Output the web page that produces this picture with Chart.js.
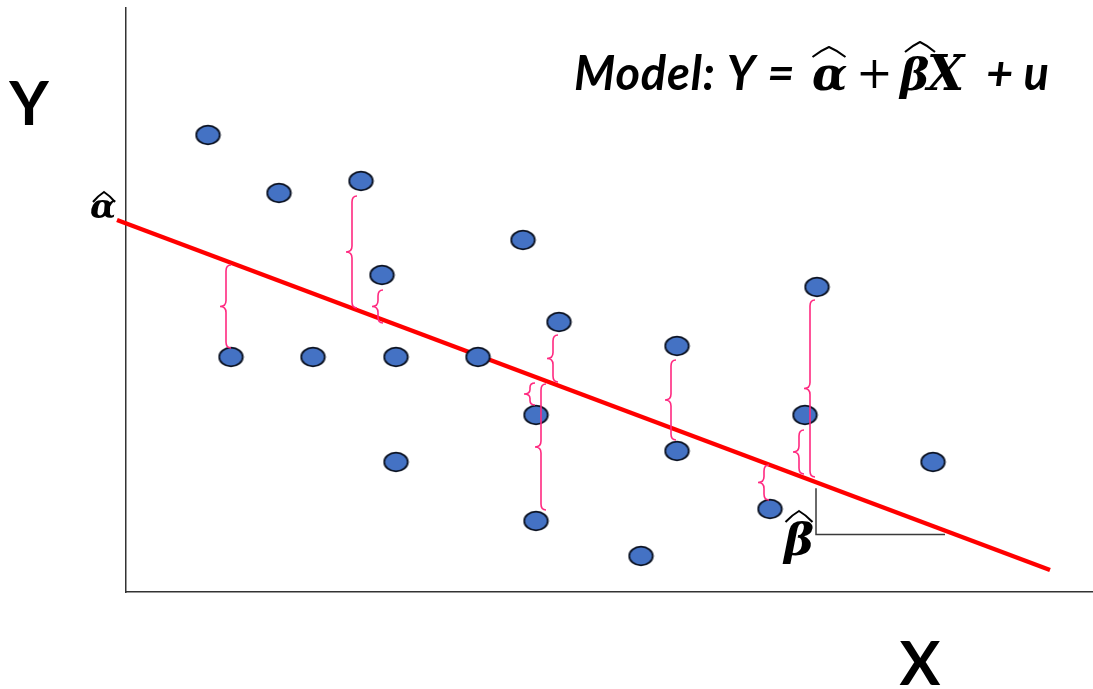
<!DOCTYPE html>
<html>
<head>
<meta charset="utf-8">
<script src="https://cdn.jsdelivr.net/npm/chart.js@4"></script>
<style>
html,body{margin:0;padding:0;background:#fff;}
#wrap{width:1093px;height:689px;}
</style>
</head>
<body>
<div id="wrap"><canvas id="c" width="1093" height="689"></canvas></div>
<script>
// Observations (X, Y) in chart units
const obsX = [8.2, 15.3, 23.5, 25.6, 39.7, 43.3, 69.1, 10.5, 18.7, 27.0, 35.2, 55.1, 41.0, 67.9, 27.0, 55.1, 80.7, 41.0, 64.4, 51.5];
const obsY = [45.7, 39.9, 41.1, 31.7, 35.2, 27.0, 30.5, 23.5, 23.5, 23.5, 23.5, 24.6, 17.7, 17.7, 13.0, 14.1, 13.0, 7.1, 8.3, 3.6];

// Fitted regression line endpoints
const lineX = [-0.9, 92.4];
const lineY = [37.2, 2.2];

// Residual braces: x position, top Y, bottom Y
const braceX   = [10.0, 22.6, 25.2, 42.7, 40.4, 41.5, 54.5, 67.3, 68.4, 63.8];
const braceTop = [32.7, 39.6, 30.2, 25.7, 20.9, 20.8, 23.2, 16.2, 29.2, 12.7];
const braceBot = [24.4, 28.4, 26.9, 21.0, 18.7, 8.2, 15.2, 11.8, 11.5, 9.2];

// Slope triangle (X start, X end on the fitted line)
const slopeX = [69.0, 81.9];

// Ellipse marker
function ellipseMarker(){
  const c = document.createElement('canvas');
  c.width = 27; c.height = 22;
  const g = c.getContext('2d');
  g.beginPath();
  g.ellipse(13.5, 11, 11.8, 9.3, 0, 0, Math.PI*2);
  g.fillStyle = '#4472C4';
  g.fill();
  g.lineWidth = 1.8;
  g.strokeStyle = '#0d1424';
  g.stroke();
  return c;
}

function lineYAt(x){
  const t = (x - lineX[0])/(lineX[1]-lineX[0]);
  return lineY[0] + t*(lineY[1]-lineY[0]);
}

function hat(ctx, cx, y, w, h){
  ctx.save();
  ctx.beginPath();
  ctx.moveTo(cx - w/2, y + h);
  ctx.quadraticCurveTo(cx - w/4, y + h*0.35, cx, y);
  ctx.quadraticCurveTo(cx + w/4, y + h*0.35, cx + w/2, y + h);
  ctx.lineWidth = 2;
  ctx.strokeStyle = '#000';
  ctx.stroke();
  ctx.restore();
}

const annot = {
  id: 'annot',
  afterDatasetsDraw(chart){
    const ctx = chart.ctx, xs = chart.scales.x, ys = chart.scales.y;
    // braces
    ctx.save();
    ctx.strokeStyle = '#ff2a80';
    ctx.lineWidth = 1.6;
    for (let i=0;i<braceX.length;i++){
      const s = xs.getPixelForValue(braceX[i]);
      const t = ys.getPixelForValue(braceTop[i]);
      const b = ys.getPixelForValue(braceBot[i]);
      const m = (t+b)/2, r = Math.min(6, (b-t)/5), w = 5, p = 6;
      ctx.beginPath();
      ctx.moveTo(s + w, t);
      ctx.quadraticCurveTo(s, t, s, t + r);
      ctx.lineTo(s, m - r);
      ctx.quadraticCurveTo(s, m, s - p, m);
      ctx.quadraticCurveTo(s, m, s, m + r);
      ctx.lineTo(s, b - r);
      ctx.quadraticCurveTo(s, b, s + w, b);
      ctx.stroke();
    }
    ctx.restore();
    // slope triangle
    ctx.save();
    ctx.strokeStyle = '#3a3a3a';
    ctx.lineWidth = 1.5;
    const x1 = xs.getPixelForValue(slopeX[0]), x2 = xs.getPixelForValue(slopeX[1]);
    const y1 = ys.getPixelForValue(lineYAt(slopeX[0])) + 6, y2 = ys.getPixelForValue(lineYAt(slopeX[1])) + 4;
    ctx.beginPath();
    ctx.moveTo(x1, y1);
    ctx.lineTo(x1, y2);
    ctx.lineTo(x2, y2);
    ctx.stroke();
    ctx.restore();
    // texts
    ctx.save();
    ctx.fillStyle = '#000';
    ctx.textBaseline = 'alphabetic';
    ctx.textAlign = 'center';
    ctx.font = 'bold 61px Lato, "Liberation Sans", sans-serif';
    ctx.fillText('Y', 29, 125);
    ctx.fillText('X', 920, 685);
    // alpha hat at intercept
    ctx.font = 'bold italic 34px "DejaVu Serif", serif';
    ctx.fillText('\u03B1', 103, 218);
    hat(ctx, 104, 192, 22, 10);
    // beta hat at slope
    ctx.font = 'bold italic 45px "DejaVu Serif", serif';
    ctx.fillText('\u03B2', 799, 555);
    hat(ctx, 799, 511, 27, 11);
    // model equation
    ctx.textAlign = 'left';
    ctx.font = 'bold italic 47px Lato, "Liberation Sans", sans-serif';
    ctx.letterSpacing = '0.8px';
    ctx.fillText('Model: Y =', 574, 90);
    ctx.letterSpacing = '0px';
    ctx.font = 'bold italic 46px "DejaVu Serif", serif';
    ctx.fillText('\u03B1', 812, 90);
    hat(ctx, 829, 47, 33, 10);
    ctx.font = '44px "DejaVu Serif", serif';
    ctx.fillText('+', 856, 88);
    ctx.font = 'bold italic 44px "DejaVu Serif", serif';
    ctx.fillText('\u03B2', 900, 90);
    hat(ctx, 920, 42, 30, 10);
    ctx.font = 'bold italic 48px "DejaVu Serif", serif';
    ctx.fillText('X', 927, 90);
    ctx.font = 'bold italic 47px Lato, "Liberation Sans", sans-serif';
    ctx.fillText('+ u', 986, 90);
    ctx.restore();
  }
};

const chart = new Chart(document.getElementById('c'), {
  type: 'scatter',
  data: {
    datasets: [
      {
        label: 'Observations',
        data: obsX.map((x,i)=>({x, y: obsY[i]})),
        pointStyle: ellipseMarker(),
        pointRadius: 12,
        showLine: false,
        order: 0
      },
      {
        type: 'line',
        label: 'Fitted line',
        data: lineX.map((x,i)=>({x, y: lineY[i]})),
        borderColor: '#ff0000',
        borderWidth: 4.5,
        pointRadius: 0,
        fill: false,
        tension: 0,
        clip: false,
        order: 1
      }
    ]
  },
  options: {
    responsive: false,
    animation: false,
    events: [],
    layout: { autoPadding: false, padding: { left: 126, right: 0, top: 8, bottom: 97 } },
    plugins: { legend: { display: false }, tooltip: { enabled: false } },
    scales: {
      x: {
        type: 'linear', min: 0, max: 96.7,
        grid: { display: false, drawTicks: false },
        ticks: { display: false },
        border: { display: true, color: '#333', width: 1.5 },
        afterFit(s){ s.height = 0; }
      },
      y: {
        type: 'linear', min: 0, max: 58.4,
        grid: { display: false, drawTicks: false },
        ticks: { display: false },
        border: { display: true, color: '#333', width: 1.5 },
        afterFit(s){ s.width = 0; }
      }
    }
  },
  plugins: [annot]
});
</script>
</body>
</html>
